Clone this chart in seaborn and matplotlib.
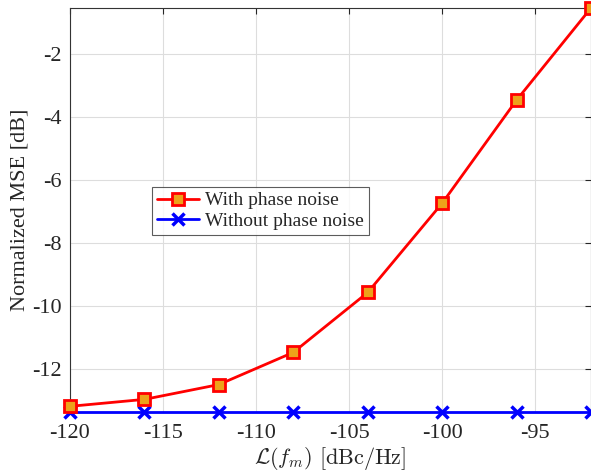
import matplotlib
matplotlib.use("Agg")
import matplotlib.pyplot as plt
import seaborn as sns
import pandas as pd

x_vals = [-120, -116, -112, -108, -104, -100, -96, -92]
with_pn = [-13.17, -12.95, -12.48, -11.46, -9.56, -6.73, -3.46, -0.54]
without_pn = [-13.35, -13.35, -13.35, -13.35, -13.35, -13.35, -13.35, -13.35]
series_names = ["With phase noise", "Without phase noise"]
x_ticks = [-120, -115, -110, -105, -100, -95]
y_ticks = [-12, -10, -8, -6, -4, -2]

sns.set_style("white")
plt.rcParams['font.family'] = ['Liberation Serif', 'DejaVu Serif']
plt.rcParams['mathtext.fontset'] = 'cm'

df = pd.DataFrame({
    "x": x_vals * 2,
    "y": with_pn + without_pn,
    "series": [series_names[0]] * len(x_vals) + [series_names[1]] * len(x_vals),
})

fig = plt.figure(figsize=(5.91, 4.75), dpi=100)
ax = fig.add_axes([70/591, 1 - 412/475, 1 - 70/591, (412 - 8)/475])

sns.lineplot(data=df[df.series == series_names[0]], x="x", y="y", ax=ax,
             color="red", lw=2, marker="s", markersize=8,
             markerfacecolor="#EDA21A", markeredgecolor="red", markeredgewidth=2,
             label=series_names[0], clip_on=False, zorder=4)
sns.lineplot(data=df[df.series == series_names[1]], x="x", y="y", ax=ax,
             color="blue", lw=2, marker="x", markersize=8,
             markeredgewidth=2.5, markeredgecolor="blue",
             label=series_names[1], clip_on=False, zorder=3)

ax.set_xlim(-120, -92)
ax.set_ylim(-13.35, -0.54)
ax.set_xticks(x_ticks)
ax.set_yticks(y_ticks)
ax.set_xticklabels([str(t) for t in x_ticks])
ax.set_yticklabels([str(t) for t in y_ticks])
ax.tick_params(direction="in", length=4, labelsize=16, colors="#262626",
               top=True, right=True, pad=6)
ax.tick_params(axis='x', pad=9)
ax.grid(True, color="#dddddd", lw=0.8)
for s in ax.spines.values():
    s.set_color("#333333")
    s.set_linewidth(0.8)

ax.set_xlabel(r"$\mathcal{L}(f_m)\ \mathrm{[dBc/Hz]}$", fontsize=16, labelpad=1, color="#262626")
ax.set_ylabel("Normalized MSE [dB]", fontsize=16, labelpad=2, color="#262626")

leg = ax.legend(loc="upper left", bbox_to_anchor=(0.157, 0.557), fontsize=14,
                frameon=True, fancybox=False, edgecolor="#333333",
                handlelength=2.2, handletextpad=0.3, borderpad=0.25,
                labelspacing=0.15, borderaxespad=0)
leg.get_frame().set_linewidth(0.8)

fig.savefig("out.png", dpi=100)
